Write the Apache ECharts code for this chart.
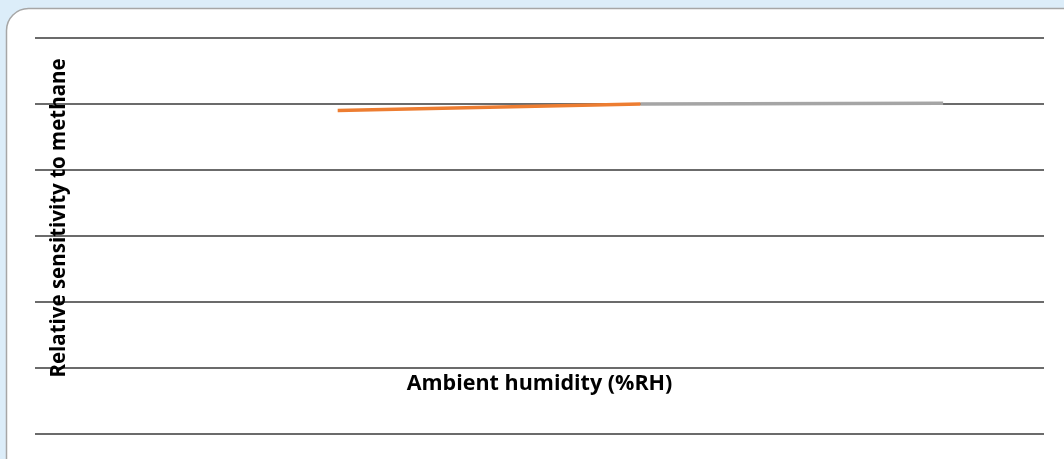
<!DOCTYPE html>
<html>
<head>
<meta charset="utf-8">
<script src="https://cdn.jsdelivr.net/npm/echarts@6/dist/echarts.min.js"></script>
<style>
  html, body { margin: 0; padding: 0; background: #dcedf9; }
  #chart { width: 1064px; height: 459px; }
</style>
</head>
<body>
<div id="chart"></div>
<script>
const humidityLow = [30, 60];
const sensitivityLow = [0.98, 1.0];
const humidityHigh = [60, 90];
const sensitivityHigh = [1.0, 1.002];
const xTitle = 'Ambient humidity (%RH)';
const yTitle = 'Relative sensitivity to methane';

const chart = echarts.init(document.getElementById('chart'));
const fontFam = '"Open Sans", "DejaVu Sans", sans-serif';
chart.setOption({
  backgroundColor: '#dcedf9',
  animation: false,
  graphic: [{
    type: 'rect',
    z: -10,
    shape: { x: 6.5, y: 8.5, width: 1080, height: 480, r: 22 },
    style: { fill: '#ffffff', stroke: '#a6a6a6', lineWidth: 1.5 }
  }, {
    type: 'text',
    z: 10,
    x: 59, y: 218,
    rotation: Math.PI / 2,
    style: {
      text: yTitle, fontFamily: fontFam, fontWeight: 'bold', fontSize: 20.5,
      fill: '#000', align: 'center', verticalAlign: 'middle'
    }
  }],
  grid: { left: 35, right: 20, top: 38, bottom: 25 },
  xAxis: {
    type: 'value', min: 0, max: 100,
    axisLine: { show: false }, axisTick: { show: false },
    axisLabel: { show: false }, splitLine: { show: false },
    name: xTitle, nameLocation: 'middle', nameGap: -61,
    nameTextStyle: { fontFamily: fontFam, fontWeight: 'bold', fontSize: 21.5, color: '#000' }
  },
  yAxis: {
    type: 'value', min: 0, max: 1.2, interval: 0.2,
    axisLine: { show: false }, axisTick: { show: false },
    axisLabel: { show: false },
    splitLine: { show: true, lineStyle: { color: '#3a3a3a', width: 1.5 } }
  },
  series: [
    {
      type: 'line', showSymbol: false, symbol: 'none',
      data: humidityHigh.map((x, i) => [x, sensitivityHigh[i]]),
      lineStyle: { color: '#a5a5a5', width: 3.5 }, z: 3
    },
    {
      type: 'line', showSymbol: false, symbol: 'none',
      data: humidityLow.map((x, i) => [x, sensitivityLow[i]]),
      lineStyle: { color: '#ed7d31', width: 3.5 }, z: 4
    }
  ]
});
</script>
</body>
</html>
